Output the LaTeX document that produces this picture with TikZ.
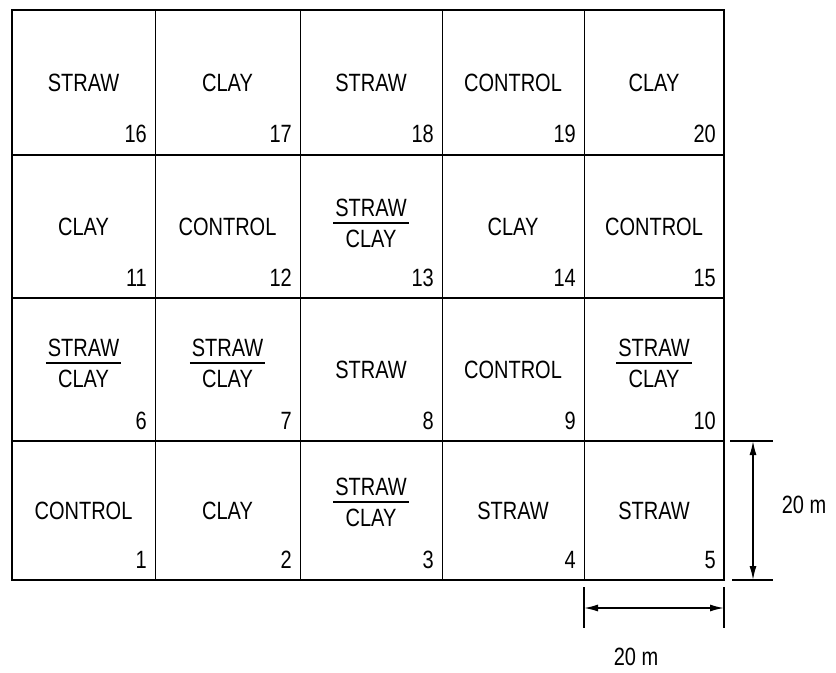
\documentclass[tikz,border=0pt]{standalone}
\usepackage{fontspec}
\setmainfont{Liberation Sans}[FakeStretch=0.8]
\usetikzlibrary{arrows.meta}
\newcommand\sclabel{\vbox{\offinterlineskip\halign{\hfil\kern2bp##\kern2bp\hfil\cr STRAW\cr\noalign{\kern5bp\hrule height 2bp\kern6bp}CLAY\cr}}}
\begin{document}
\begin{tikzpicture}[x=1bp,y=-1bp,
  lbl/.style={font=\fontsize{25bp}{30bp}\selectfont, inner sep=0pt},
  num/.style={lbl, anchor=base east},
  outer/.style={line width=2.2bp},
  rowline/.style={line width=2bp},
  colline/.style={line width=1bp},
  dimline/.style={line width=1.3bp},
  dimarrow/.style={line width=1.5bp, {Latex[length=14bp,width=7bp]}-{Latex[length=14bp,width=7bp]}}]
\useasboundingbox (0,0) rectangle (836,673);
% grid
\draw[outer] (12,10) rectangle (724,580);
\foreach \y in {155,298,441} \draw[rowline] (12,\y) -- (724,\y);
\foreach \x in {155,300,442,584} \draw[colline] (\x,10) -- (\x,580);
% cells
\foreach \n/\col/\row/\txt/\dy in {
  16/0/0/STRAW/0, 17/1/0/CLAY/0, 18/2/0/STRAW/0, 19/3/0/CONTROL/0, 20/4/0/CLAY/0,
  11/0/1/CLAY/0, 12/1/1/CONTROL/0, 13/2/1/\sclabel/-3, 14/3/1/CLAY/0, 15/4/1/CONTROL/0,
  6/0/2/\sclabel/-6, 7/1/2/\sclabel/-6, 8/2/2/STRAW/0, 9/3/2/CONTROL/0, 10/4/2/\sclabel/-6,
  1/0/3/CONTROL/0, 2/1/3/CLAY/0, 3/2/3/\sclabel/-8, 4/3/3/STRAW/0, 5/4/3/STRAW/0}{
  \pgfmathsetmacro{\xl}{{12,155,300,442,584,724}[\col]}
  \pgfmathsetmacro{\xr}{{12,155,300,442,584,724}[\col+1]}
  \pgfmathsetmacro{\yt}{{10,155,298,441,580}[\row]}
  \pgfmathsetmacro{\yb}{{10,155,298,441,580}[\row+1]}
  \node[lbl] (c\n) at ({(\xl+\xr)/2},{(\yt+\yb)/2+\dy}) {\txt};
  \node[num] (n\n) at (\xr-8,\yb-12) {\n};
}
% vertical dimension
\coordinate (vt) at (753,441);
\coordinate (vb) at (753,580);
\draw[dimline] (730,441) -- (773,441);
\draw[dimline] (732,580) -- (773,580);
\draw[dimarrow] (vt) -- (vb);
\node[lbl] (dimv) at (804,505) {20 m};
% horizontal dimension
\coordinate (hl) at (584,608);
\coordinate (hr) at (724,608);
\draw[dimline] (584,587) -- (584,628);
\draw[dimline] (724,587) -- (724,628);
\draw[dimarrow] (hl) -- (hr);
\node[lbl] (dimh) at (636,657) {20 m};
\end{tikzpicture}
\end{document}
